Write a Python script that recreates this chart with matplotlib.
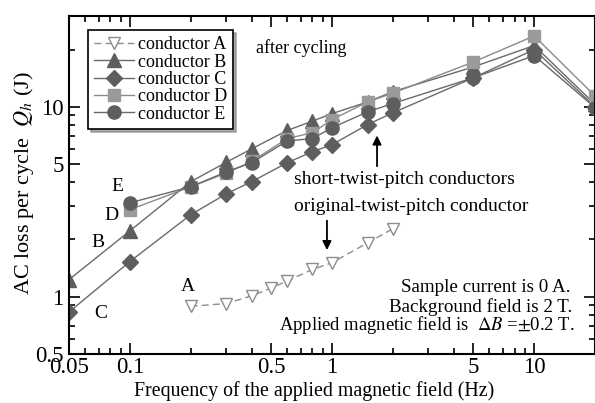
import numpy as np
import matplotlib
matplotlib.use("Agg")
import matplotlib.pyplot as plt
from matplotlib.ticker import FixedLocator, NullFormatter

plt.rcParams['font.family'] = ['Liberation Serif', 'DejaVu Serif']
plt.rcParams['mathtext.fontset'] = 'stix'

# frequencies (Hz) and hysteresis loss per cycle (J)
freq_a = [0.2, 0.3, 0.4, 0.5, 0.6, 0.8, 1.0, 1.5, 2.0]
loss_a = [0.89, 0.92, 1.01, 1.11, 1.21, 1.39, 1.51, 1.92, 2.28]

freq_bc = [0.05, 0.1, 0.2, 0.3, 0.4, 0.6, 0.8, 1.0, 1.5, 2.0, 5.0, 10.0, 20.0]
loss_b = [1.23, 2.22, 4.03, 5.1, 6.0, 7.5, 8.4, 9.2, 10.6, 12.0, 16.2, 21.0, 10.3]
loss_c = [0.83, 1.53, 2.70, 3.48, 4.03, 5.07, 5.8, 6.31, 8.06, 9.29, 14.2, 20.0, 10.0]

freq_de = [0.1, 0.2, 0.3, 0.4, 0.6, 0.8, 1.0, 1.5, 2.0, 5.0, 10.0, 20.0]
loss_d = [2.87, 3.79, 4.47, 5.15, 6.8, 7.3, 8.55, 10.6, 11.8, 17.2, 23.6, 11.4]
loss_e = [3.12, 3.79, 4.54, 5.07, 6.6, 6.8, 7.75, 9.4, 10.4, 14.2, 18.6, 9.9]

fig = plt.figure(figsize=(5.95, 4.03), dpi=100)
ax = fig.add_axes([0.116, 0.122, 0.884, 0.838])

dark = '#5e5e5e'
line = '#6a6a6a'
light = '#9a9a9a'

ax.plot(freq_a, loss_a, ls=(0, (5, 3)), color='#8c8c8c', lw=1.0, marker='v',
        ms=9, mfc='white', mec='#8c8c8c', mew=1.0, label='conductor A')
ax.plot(freq_bc, loss_b, color=line, lw=1.0, marker='^', ms=10,
        mfc=dark, mec=dark, label='conductor B')
ax.plot(freq_bc, loss_c, color=line, lw=1.0, marker='D', ms=8,
        mfc=dark, mec=dark, label='conductor C')
ax.plot(freq_de, loss_d, color='#8a8a8a', lw=1.0, marker='s', ms=9,
        mfc=light, mec=light, label='conductor D')
ax.plot(freq_de, loss_e, color=line, lw=1.0, marker='o', ms=9.5,
        mfc=dark, mec=dark, label='conductor E')

ax.set_xscale('log')
ax.set_yscale('log')
ax.set_xlim(0.05, 20)
ax.set_ylim(0.5, 30)

ax.xaxis.set_major_locator(FixedLocator([0.05, 0.1, 0.5, 1, 5, 10]))
ax.set_xticklabels(['0.05', '0.1', '0.5', '1', '5', '10'])
ax.xaxis.set_minor_locator(FixedLocator([0.06, 0.07, 0.08, 0.09, 0.2, 0.3, 0.4,
                                         0.6, 0.7, 0.8, 0.9, 2, 3, 4, 6, 7, 8, 9, 20]))
ax.xaxis.set_minor_formatter(NullFormatter())
ax.yaxis.set_major_locator(FixedLocator([0.5, 1, 5, 10]))
ax.set_yticklabels(['0.5', '1', '5', '10'])
ax.yaxis.set_minor_locator(FixedLocator([0.6, 0.7, 0.8, 0.9, 2, 3, 4, 6, 7, 8, 9, 20]))
ax.yaxis.set_minor_formatter(NullFormatter())

ax.tick_params(which='both', direction='in', top=True, right=True, width=1.2,
               labelsize=16.5)
ax.tick_params(axis='x', pad=2)
ax.tick_params(axis='y', pad=4)
ax.tick_params(which='major', length=8)
ax.tick_params(which='minor', length=4.5)
for s in ax.spines.values():
    s.set_linewidth(1.5)

ax.set_xlabel('Frequency of the applied magnetic field (Hz)', fontsize=14.3, labelpad=0)
ax.xaxis.set_label_coords(0.466, -0.08)
ax.set_ylabel('AC loss per cycle  $Q_h$ (J)', fontsize=16)
ax.yaxis.set_label_coords(-0.062, 0.506)

leg = ax.legend(loc='upper left', bbox_to_anchor=(0.036, 0.959), fontsize=13,
                frameon=True, fancybox=False, shadow={'color': '0.4'},
                handlelength=2.2, handletextpad=0.2, labelspacing=0.02,
                borderpad=0.35, borderaxespad=0)
leg.get_frame().set_edgecolor('black')
leg.get_frame().set_linewidth(1.2)

ax.text(0.355, 0.905, 'after cycling', transform=ax.transAxes, fontsize=13, va='center')

# curve letters next to the low-frequency ends
ax.text(0.087, 3.8, 'E', fontsize=14, ha='center', va='center')
ax.text(0.0815, 2.67, 'D', fontsize=14, ha='center', va='center')
ax.text(0.0696, 1.92, 'B', fontsize=14, ha='center', va='center')
ax.text(0.0719, 0.82, 'C', fontsize=14, ha='center', va='center')
ax.text(0.193, 1.13, 'A', fontsize=14, ha='center', va='center')

ax.annotate('', xy=(1.67, 7.3), xytext=(1.67, 4.7),
            arrowprops=dict(arrowstyle='-|>', color='black', lw=1.3, mutation_scale=13))
ax.text(0.65, 4.13, 'short-twist-pitch conductors', fontsize=14, va='center')
ax.text(0.65, 2.97, 'original-twist-pitch conductor', fontsize=14, va='center')
ax.annotate('', xy=(0.944, 1.7), xytext=(0.944, 2.6),
            arrowprops=dict(arrowstyle='-|>', color='black', lw=1.3, mutation_scale=13))

ax.text(0.954, 0.195, 'Sample current is 0 A.', transform=ax.transAxes,
        fontsize=13.7, ha='right', va='center')
ax.text(0.956, 0.139, 'Background field is 2 T.', transform=ax.transAxes,
        fontsize=13.7, ha='right', va='center')
ax.text(0.962, 0.084, r'Applied magnetic field is  $\mathit{\Delta B}$ =$\pm$0.2 T.',
        transform=ax.transAxes, fontsize=13.4, ha='right', va='center')

fig.savefig('out.png', dpi=100)
